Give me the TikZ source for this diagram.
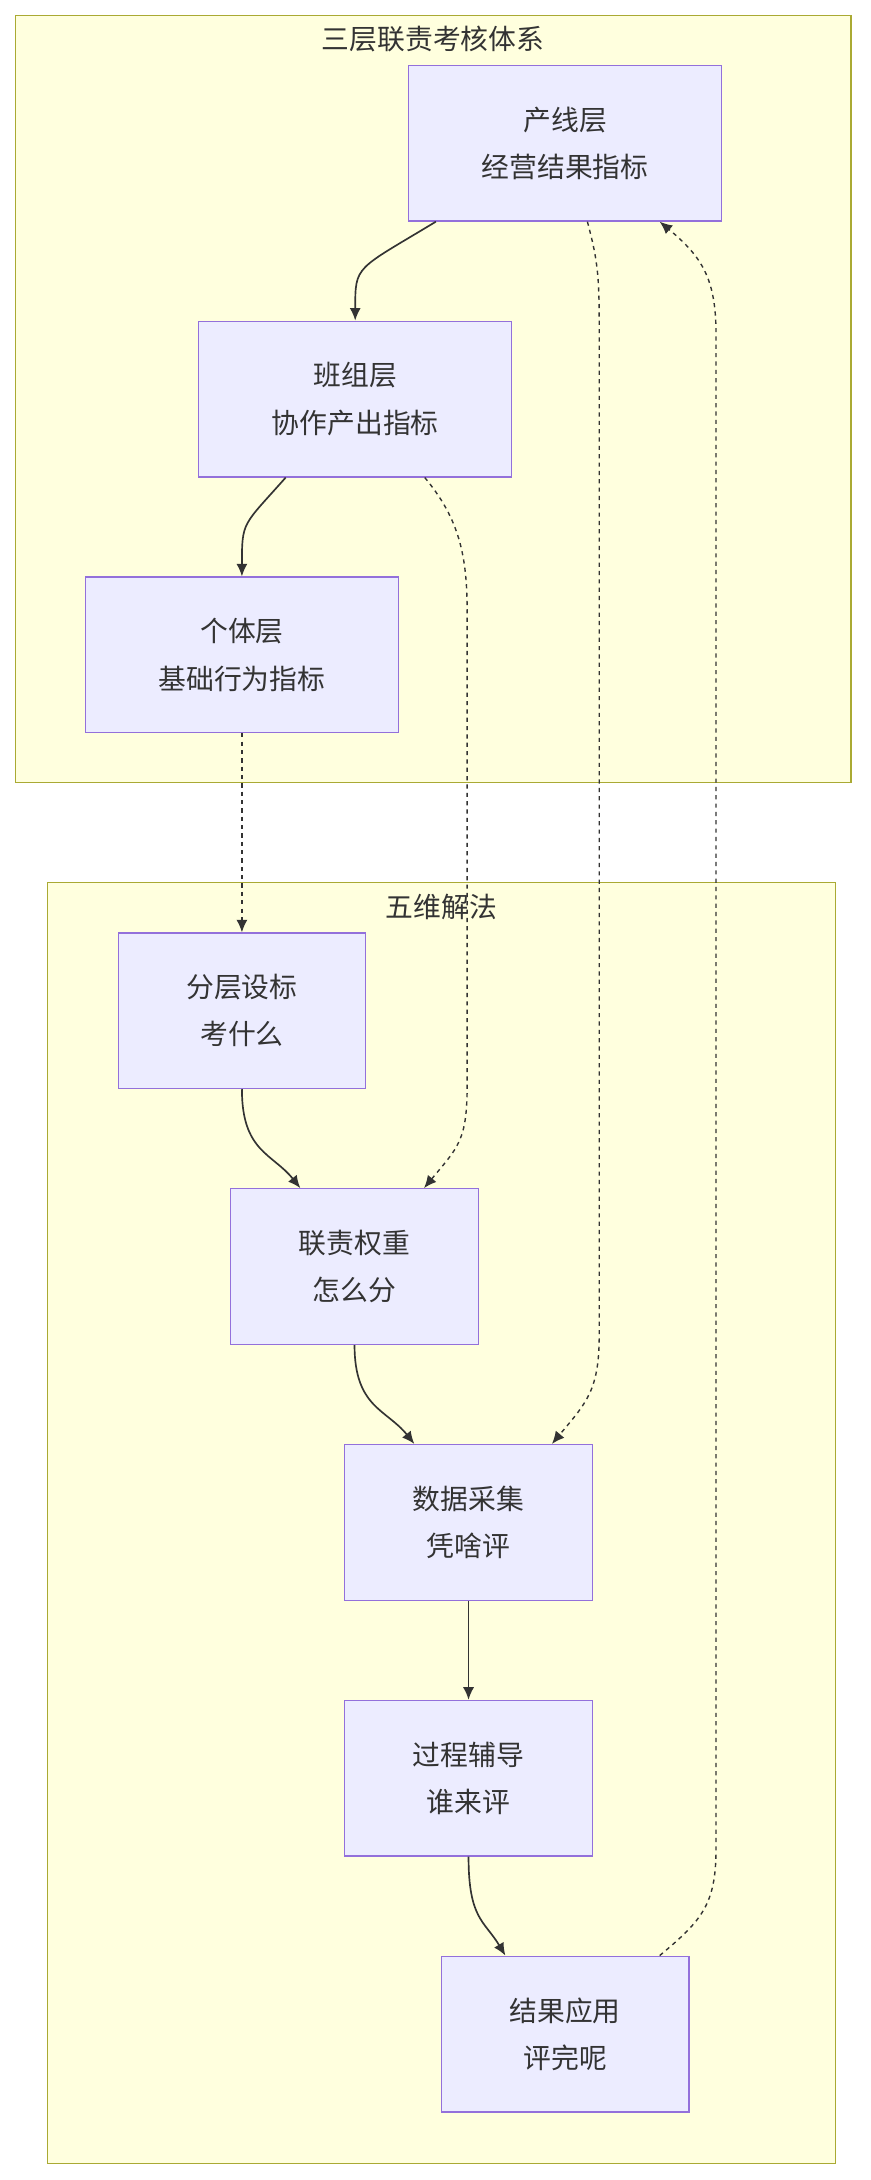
\documentclass[tikz,border=0pt]{standalone}
\usepackage{fontspec}
\setmainfont{Noto Sans CJK SC}
\usetikzlibrary{arrows.meta,positioning,calc}
\definecolor{boxfill}{HTML}{ECECFF}
\definecolor{boxline}{HTML}{9370DB}
\definecolor{grpfill}{HTML}{FFFFDE}
\definecolor{grpline}{HTML}{AAAA33}
\definecolor{ink}{HTML}{333333}
\begin{document}
\begin{tikzpicture}[
        x=1pt, y=-1pt,
        stage/.style={rectangle, draw=boxline, fill=boxfill, line width=0.9pt, minimum width=178pt, minimum height=112pt, align=center, font=\fontsize{20}{34}\selectfont, text=ink},
        wide/.style={stage, minimum width=225pt},
        group/.style={draw=grpline, fill=grpfill, line width=0.9pt},
        title/.style={font=\fontsize{20}{24}\selectfont, text=ink},
        arrow/.style={draw=ink, line width=1.2pt, -{Latex[length=9pt,width=8pt]}},
        dotlink/.style={arrow, line width=1pt, dash pattern=on 3pt off 3pt},
    ]
    \useasboundingbox (0,0) rectangle (626,1568);

    % Groups
    \filldraw[group] (11,11) rectangle (612,563);
    \node[title] (tgroup) at (311.5,28) {三层联责考核体系};
    \filldraw[group] (34,635) rectangle (601,1556);
    \node[title] (fgroup) at (317.5,652) {五维解法};

    % Three layers
    \node[wide] (line) at (406.5,103) {产线层\\经营结果指标};
    \node[wide] (team) at (255.5,287) {班组层\\协作产出指标};
    \node[wide] (self) at (174,471) {个体层\\基础行为指标};

    % Five steps
    \node[stage] (goal) at (174,727) {分层设标\\考什么};
    \node[stage] (weight) at (255,911) {联责权重\\怎么分};
    \node[stage] (data) at (337,1095) {数据采集\\凭啥评};
    \node[stage] (coach) at (337,1279) {过程辅导\\谁来评};
    \node[stage] (use) at (406.5,1463) {结果应用\\评完呢};

    % Solid links
    \draw[arrow] ([xshift=-93pt]line.south) .. controls ++(-58,35) and ++(0,-40) .. (team.north);
    \draw[arrow] ([xshift=-50pt]team.south) .. controls ++(-31,35) and ++(0,-40) .. (self.north);
    \draw[arrow] (goal.south) .. controls ++(0,45) and ++(-20,-25) .. ([xshift=-39pt]weight.north);
    \draw[arrow] (weight.south) .. controls ++(0,45) and ++(-20,-25) .. ([xshift=-39pt]data.north);
    \draw[arrow] (data) -- (coach);
    \draw[arrow] (coach.south) .. controls ++(0,45) and ++(-15,-25) .. ([xshift=-43pt]use.north);

    % Dashed links
    \draw[dotlink] (self) -- (goal);
    \draw[dotlink] ([xshift=50pt]team.south) .. controls ++(25,30) and ++(0,-40) .. (336,440)
        -- (336,780) .. controls ++(0,40) and ++(25,-30) .. ([xshift=50pt]weight.north);
    \draw[dotlink] ([xshift=16pt]line.south) .. controls ++(8,30) and ++(0,-40) .. (431,240)
        -- (431,960) .. controls ++(0,40) and ++(25,-30) .. ([xshift=60pt]data.north);
    \draw[dotlink] ([xshift=68pt]use.north) .. controls ++(30,-25) and ++(0,40) .. (515,1330)
        -- (515,240) .. controls ++(0,-40) and ++(30,25) .. ([xshift=68pt]line.south);
\end{tikzpicture}
\end{document}
